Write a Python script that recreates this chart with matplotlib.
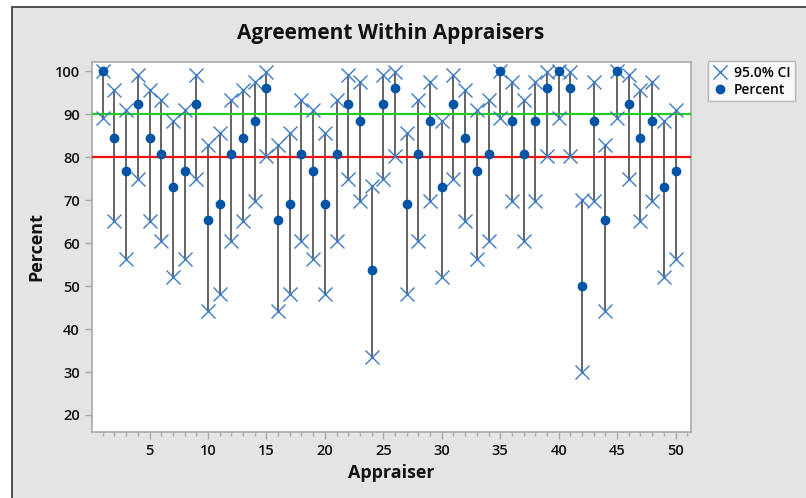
import numpy as np
import matplotlib
matplotlib.use("Agg")
import matplotlib.pyplot as plt
from matplotlib.patches import Rectangle
from matplotlib.ticker import MultipleLocator

plt.rcParams['font.family'] = ['Open Sans', 'DejaVu Sans']

### Data ###
appraiser = list(range(1, 51))
percent = [100.0, 84.6, 76.9, 92.3, 84.6, 80.8, 73.1, 76.9, 92.3, 65.4,
           69.2, 80.8, 84.6, 88.5, 96.2, 65.4, 69.2, 80.8, 76.9, 69.2,
           80.8, 92.3, 88.5, 53.8, 92.3, 96.2, 69.2, 80.8, 88.5, 73.1,
           92.3, 84.6, 76.9, 80.8, 100.0, 88.5, 80.8, 88.5, 96.2, 100.0,
           96.2, 50.0, 88.5, 65.4, 100.0, 92.3, 84.6, 88.5, 73.1, 76.9]
ci_lower = [89.1, 65.1, 56.4, 74.9, 65.1, 60.6, 52.2, 56.4, 74.9, 44.3,
            48.2, 60.6, 65.1, 69.8, 80.4, 44.3, 48.2, 60.6, 56.4, 48.2,
            60.6, 74.9, 69.8, 33.4, 74.9, 80.4, 48.2, 60.6, 69.8, 52.2,
            74.9, 65.1, 56.4, 60.6, 89.1, 69.8, 60.6, 69.8, 80.4, 89.1,
            80.4, 29.9, 69.8, 44.3, 89.1, 74.9, 65.1, 69.8, 52.2, 56.4]
ci_upper = [100.0, 95.6, 91.0, 99.1, 95.6, 93.4, 88.4, 91.0, 99.1, 82.8,
            85.7, 93.4, 95.6, 97.6, 99.9, 82.8, 85.7, 93.4, 91.0, 85.7,
            93.4, 99.1, 97.6, 73.4, 99.1, 99.9, 85.7, 93.4, 97.6, 88.4,
            99.1, 95.6, 91.0, 93.4, 100.0, 97.6, 93.4, 97.6, 99.9, 100.0,
            99.9, 70.1, 97.6, 82.8, 100.0, 99.1, 95.6, 97.6, 88.4, 91.0]
ref_green = 90
ref_red = 80

### Plotting ###
fig = plt.figure(figsize=(8.06, 4.98), dpi=100, facecolor='white')
fig.patches.append(Rectangle((12/806, -0.05), 1.1, 1 - 7/498 + 0.05,
                             transform=fig.transFigure, facecolor='#E4E4E4',
                             edgecolor='#333333', linewidth=1.2, zorder=-10))

ax = fig.add_axes([91.7/806, 1 - 431.7/498, (690.7 - 91.7)/806, (431.7 - 61.7)/498])
ax.set_facecolor('white')

ax.vlines(appraiser, ci_lower, ci_upper, colors='#3a3a3a', linewidth=1.1, zorder=2)
ax.axhline(ref_green, color='#22CC22', linewidth=1.6, zorder=3)
ax.axhline(ref_red, color='#EE1111', linewidth=1.6, zorder=3)
ax.plot(appraiser, ci_lower, 'x', color='#3D7CC4', markersize=9.5, mew=1.0, zorder=4)
ci_line, = ax.plot(appraiser, ci_upper, 'x', color='#3D7CC4', markersize=9.5, mew=1.0,
                   zorder=4, label='95.0% CI')
pct_line, = ax.plot(appraiser, percent, 'o', color='#0054A6', markersize=6,
                    zorder=5, label='Percent')

ax.set_xlim(0.05, 51.3)
ax.set_ylim(16.1, 102.25)
ax.xaxis.set_major_locator(MultipleLocator(5))
ax.xaxis.set_minor_locator(MultipleLocator(1))
ax.set_xticks(range(5, 51, 5))
ax.set_yticks(range(20, 101, 10))

for s in ax.spines.values():
    s.set_color('#A8A8A8')
    s.set_linewidth(1.2)
ax.tick_params(axis='both', which='major', colors='#A8A8A8', labelcolor='#111111',
               length=5, width=1, labelsize=10.5)
ax.tick_params(axis='x', which='minor', colors='#A8A8A8', length=3, width=1)
for lab in ax.get_xticklabels() + ax.get_yticklabels():
    lab.set_fontweight('semibold')

ax.set_xlabel('Appraiser', fontsize=13, fontweight='bold', color='#111111', labelpad=5)
ax.set_ylabel('Percent', fontsize=13, fontweight='bold', color='#111111', labelpad=7)
fig.text(391/806, 1 - 33/498, 'Agreement Within Appraisers', ha='center', va='center',
         fontsize=15, fontweight='bold', color='#111111')

leg = fig.legend(handles=[ci_line, pct_line], loc='upper left',
                 bbox_to_anchor=(708/806, 1 - 61/498), frameon=True, fancybox=False,
                 fontsize=10, handlelength=1.0, handletextpad=0.5, borderpad=0.35,
                 labelspacing=0.2, borderaxespad=0)
leg.get_frame().set_edgecolor('#A8A8A8')
leg.get_frame().set_linewidth(1.0)
for t in leg.get_texts():
    t.set_fontweight('semibold')

plt.savefig('out.png', dpi=100, facecolor=fig.get_facecolor())
